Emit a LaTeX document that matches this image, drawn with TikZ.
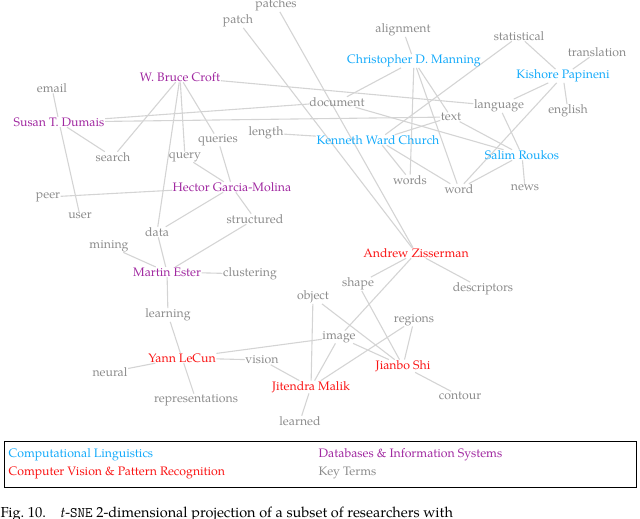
\documentclass[tikz,border=0pt]{standalone}
\usepackage{fontspec}
\setmainfont{TeX Gyre Pagella}
\pgfdeclarelayer{bg}
\pgfsetlayers{bg,main}
\begin{document}
\begin{tikzpicture}[x=1pt,y=-1pt,
  every node/.style={inner sep=0.5pt,font=\fontsize{12.3}{14}\selectfont},
  cl/.style={text={rgb,255:red,20;green,170;blue,250}},
  cv/.style={text={rgb,255:red,250;green,20;blue,20}},
  db/.style={text={rgb,255:red,160;green,40;blue,160}},
  kt/.style={text={rgb,255:red,140;green,140;blue,140}},
  ed/.style={draw={rgb,255:red,212;green,212;blue,212},line width=1.1pt}]
\clip (0,0) rectangle (640,519);
\useasboundingbox (0,0) rectangle (640,519);
% nodes
\node[kt] (patches) at (276,5) {patches};
\node[kt] (patch) at (238,21) {patch};
\node[kt] (email) at (52,88) {email};
\node[db] (croft) at (180,77) {W. Bruce Croft};
\node[db] (dumais) at (59,122) {Susan T. Dumais};
\node[kt] (search) at (113,157) {search};
\node[kt] (query) at (185,157) {query};
\node[kt] (queries) at (218,140) {queries};
\node[kt] (length) at (266,133) {length};
\node[db] (hector) at (232,187) {Hector Garcia-Molina};
\node[kt] (peer) at (48,197) {peer};
\node[kt] (user) at (80,216) {user};
\node[kt] (data) at (157,232) {data};
\node[kt] (structured) at (255,219) {structured};
\node[kt] (mining) at (109,246) {mining};
\node[db] (ester) at (167,272) {Martin Ester};
\node[kt] (clustering) at (250,274) {clustering};
\node[kt] (learning) at (168,315) {learning};
\node[cv] (lecun) at (182,358) {Yann LeCun};
\node[kt] (neural) at (110,372) {neural};
\node[kt] (repr) at (196,400) {representations};
\node[kt] (vision) at (262,360) {vision};
\node[cv] (malik) at (311,387) {Jitendra Malik};
\node[kt] (learned) at (300,421) {learned};
\node[kt] (object) at (313,297) {object};
\node[kt] (image) at (339,337) {image};
\node[kt] (shape) at (358,284) {shape};
\node[kt] (regions) at (414,320) {regions};
\node[cv] (shi) at (403,366) {Jianbo Shi};
\node[kt] (contour) at (460,396) {contour};
\node[cv] (zisser) at (416,253) {Andrew Zisserman};
\node[kt] (descr) at (483,289) {descriptors};
\node[kt] (alignment) at (403,30) {alignment};
\node[cl] (manning) at (414,61) {Christopher D. Manning};
\node[kt] (statistical) at (519,36) {statistical};
\node[kt] (translation) at (597,52) {translation};
\node[cl] (kishore) at (563,76) {Kishore Papineni};
\node[kt] (document) at (337,102) {document};
\node[kt] (language) at (499,106) {language};
\node[kt] (english) at (568,111) {english};
\node[kt] (text) at (451,117) {text};
\node[cl] (church) at (378,140) {Kenneth Ward Church};
\node[cl] (salim) at (522,155) {Salim Roukos};
\node[kt] (words) at (410,180) {words};
\node[kt] (word) at (459,189) {word};
\node[kt] (news) at (525,188) {news};
% edges
\begin{pgfonlayer}{bg}
\foreach \a/\b in {croft/search,croft/query,croft/queries,croft/data,croft/language,
 dumais/email,dumais/user,dumais/search,dumais/document,dumais/text,
 document/salim,text/salim,
 manning/alignment,manning/document,manning/words,manning/text,manning/word,
 church/length,church/statistical,church/text,church/words,church/word,
 statistical/kishore,kishore/translation,kishore/english,kishore/language,kishore/word,
 salim/language,salim/news,salim/word,
 patch/zisser,patches/zisser,
 hector/peer,hector/query,hector/queries,hector/data,hector/structured,
 structured/ester,data/ester,ester/mining,ester/clustering,ester/learning,
 learning/lecun,lecun/neural,lecun/repr,lecun/image,lecun/vision,vision/malik,
 malik/learned,malik/object,malik/image,malik/regions,object/shi,image/shi,
 image/zisser,zisser/shape,zisser/descr,shape/shi,regions/shi,shi/contour}
 {\draw[ed] (\a) -- (\b);}
\end{pgfonlayer}
% legend
\draw[line width=0.8pt] (4,441) rectangle (636,487);
\node[cl,anchor=west] (l1) at (8,455) {Computational Linguistics};
\node[cv,anchor=west] (l2) at (8,473) {Computer Vision \& Pattern Recognition};
\node[db,anchor=west] (l3) at (318,455) {Databases \& Information Systems};
\node[kt,anchor=west] (l4) at (318,473) {Key Terms};
\node[anchor=west,font=\fontsize{14.5}{16}\selectfont] (cap) at (0,514) {Fig.~10.\quad \textit{t}-\texttt{SNE} 2-dimensional projection of a subset of researchers with};
\end{tikzpicture}
\end{document}
